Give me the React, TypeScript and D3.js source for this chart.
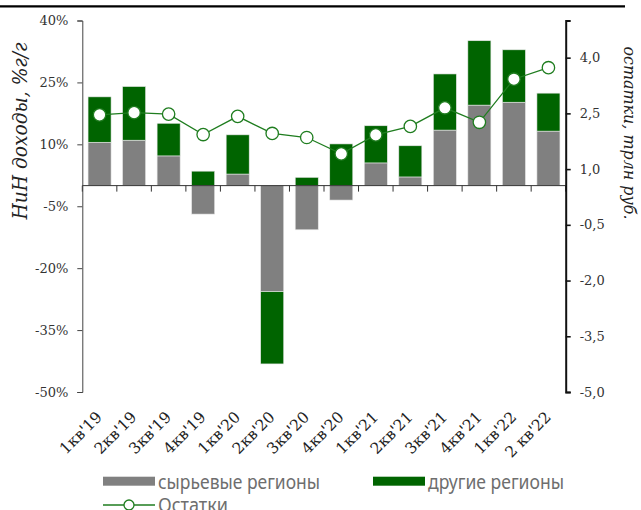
import React, { useEffect, useRef } from "react";
import * as d3 from "d3";

const categories = ["1кв'19", "2кв'19", "3кв'19", "4кв'19", "1кв'20", "2кв'20", "3кв'20", "4кв'20", "1кв'21", "2кв'21", "3кв'21", "4кв'21", "1кв'22", "2 кв'22"];
const rawRegions = [10.5, 11.0, 7.2, -6.9, 2.8, -25.7, -10.7, -3.5, 5.5, 2.1, 13.45, 19.5, 20.2, 13.2];
const otherRegions = [11.0, 13.0, 7.9, 3.5, 9.5, -17.5, 2.0, 10.1, 9.0, 7.55, 13.6, 15.6, 12.7, 9.2];
const balances = [2.46, 2.52, 2.48, 1.93, 2.42, 1.96, 1.85, 1.41, 1.92, 2.15, 2.65, 2.26, 3.42, 3.73];
const leftTicks = [-50, -35, -20, -5, 10, 25, 40];
const rightTicks = [-5, -3.5, -2, -0.5, 1, 2.5, 4];
const seriesNames = ["сырьевые регионы", "другие регионы"];
const lineName = "Остатки";
const leftTitle = "НиН доходы, %г/г";
const rightTitle = "остатки, трлн руб.";

const W = 641, H = 510;
const M = { left: 82.3, right: 565.7, top: 20.5, bottom: 392 };
const GREY = "#808080";
const GREEN = "#006400";
const LINE_GREEN = "#1f7d1f";
const SERIF = "'DejaVu Serif', serif";

export default function App() {
  const ref = useRef<SVGSVGElement>(null);

  useEffect(() => {
    const svg = d3.select(ref.current);
    svg.selectAll("*").remove();

    const n = categories.length;
    const x = d3.scaleBand<string>().domain(categories).range([M.left, M.right]).paddingInner(0.333).paddingOuter(0.1665);
    const yL = d3.scaleLinear().domain([-50, 40]).range([M.bottom, M.top]);
    const yR = d3.scaleLinear().domain([-5, 5]).range([M.bottom, M.top]);

    // top rule
    svg.append("line").attr("x1", 0).attr("x2", 625).attr("y1", 6.3).attr("y2", 6.3)
      .attr("stroke", "#000").attr("stroke-width", 2.2);

    // bars
    const rows = categories.map((c, i) => ({ cat: c, raw: rawRegions[i], other: otherRegions[i] }));
    const stack = d3.stack<any>().keys(["raw", "other"]).offset(d3.stackOffsetDiverging);
    const layers = stack(rows);
    const colors = [GREY, GREEN];
    layers.forEach((layer, li) => {
      svg.append("g").selectAll("rect").data(layer).join("rect")
        .attr("x", (d: any) => x(d.data.cat)!)
        .attr("width", x.bandwidth())
        .attr("y", (d: any) => yL(Math.max(d[0], d[1])))
        .attr("height", (d: any) => Math.abs(yL(d[0]) - yL(d[1])))
        .attr("fill", colors[li])
        .attr("stroke", "#e6e6e6").attr("stroke-width", 0.6);
    });

    // x axis line with ticks at band boundaries
    const y0 = yL(0);
    const gx = svg.append("g");
    gx.append("line").attr("x1", M.left).attr("x2", M.right).attr("y1", y0).attr("y2", y0)
      .attr("stroke", "#333").attr("stroke-width", 1);
    d3.range(n + 1).forEach((i) => {
      const xx = M.left + i * x.step();
      gx.append("line").attr("x1", xx).attr("x2", xx).attr("y1", y0).attr("y2", y0 + 6)
        .attr("stroke", "#333").attr("stroke-width", 1);
    });

    // x labels
    svg.append("g").selectAll("text").data(categories).join("text")
      .attr("transform", (d) => `translate(${x(d)! + x.bandwidth() / 2 + 3.5},${418}) rotate(-45)`)
      .attr("text-anchor", "end")
      .attr("font-family", SERIF).attr("font-size", 15.5).attr("fill", "#222")
      .text((d) => d);

    // left axis
    const gl = svg.append("g").attr("transform", `translate(${M.left},0)`)
      .call(d3.axisLeft(yL).tickValues(leftTicks).tickFormat((d) => `${d}%`).tickSizeOuter(0).tickSize(5).tickPadding(9));
    gl.select(".domain").attr("stroke", "#444");
    gl.selectAll(".tick line").attr("stroke", "#444");
    gl.selectAll("text").attr("font-family", SERIF).attr("font-size", 13).attr("fill", "#333");

    // right axis
    const gr = svg.append("g").attr("transform", `translate(${M.right},0)`)
      .call(d3.axisRight(yR).tickValues(rightTicks).tickFormat((d) => (+d).toFixed(1).replace(".", ",")).tickSizeOuter(0).tickSize(5).tickPadding(9));
    gr.select(".domain").attr("stroke", "#111").attr("stroke-width", 2);
    gr.selectAll(".tick line").attr("stroke", "#111").attr("stroke-width", 1.6);
    gr.selectAll("text").attr("font-family", SERIF).attr("font-size", 13).attr("fill", "#333");

    // line
    const line = d3.line<number>().x((_, i) => x(categories[i])! + x.bandwidth() / 2).y((d) => yR(d));
    svg.append("path").datum(balances).attr("d", line).attr("fill", "none")
      .attr("stroke", LINE_GREEN).attr("stroke-width", 1.3);
    svg.append("g").selectAll("circle").data(balances).join("circle")
      .attr("cx", (_, i) => x(categories[i])! + x.bandwidth() / 2)
      .attr("cy", (d) => yR(d)).attr("r", 6.2)
      .attr("fill", "#fff").attr("stroke", LINE_GREEN).attr("stroke-width", 1.3);

    // axis titles
    svg.append("text").attr("transform", `translate(27,${131}) rotate(-90)`)
      .attr("text-anchor", "middle").attr("font-family", SERIF).attr("font-style", "italic")
      .attr("font-size", 20).attr("fill", "#222")
      .attr("textLength", 177).attr("lengthAdjust", "spacingAndGlyphs")
      .text(leftTitle);
    svg.append("text").attr("transform", `translate(624,${133}) rotate(90)`)
      .attr("text-anchor", "middle").attr("font-family", SERIF).attr("font-style", "italic")
      .attr("font-size", 17).attr("fill", "#222")
      .attr("textLength", 173).attr("lengthAdjust", "spacingAndGlyphs")
      .text(rightTitle);

    // legend
    const LF = "'Liberation Sans Narrow', 'Noto Sans', sans-serif";
    const lg = svg.append("g");
    const items = [
      { x: 103, y: 476.7, color: GREY, label: seriesNames[0], len: 162 },
      { x: 373, y: 476.7, color: GREEN, label: seriesNames[1], len: 136 },
    ];
    items.forEach((it) => {
      lg.append("rect").attr("x", it.x).attr("y", it.y).attr("width", 52).attr("height", 9).attr("fill", it.color);
      lg.append("text").attr("x", it.x + 55).attr("y", 489).attr("font-family", LF).attr("font-size", 19)
        .attr("fill", "#6e6e6e").attr("textLength", it.len).attr("lengthAdjust", "spacingAndGlyphs").text(it.label);
    });
    lg.append("line").attr("x1", 103).attr("x2", 155).attr("y1", 505).attr("y2", 505)
      .attr("stroke", LINE_GREEN).attr("stroke-width", 1.3);
    lg.append("circle").attr("cx", 129).attr("cy", 505).attr("r", 5)
      .attr("fill", "#fff").attr("stroke", LINE_GREEN).attr("stroke-width", 1.3);
    lg.append("text").attr("x", 158).attr("y", 512).attr("font-family", LF).attr("font-size", 19)
      .attr("fill", "#6e6e6e").attr("textLength", 70).attr("lengthAdjust", "spacingAndGlyphs").text(lineName);
  }, []);

  return (
    <svg ref={ref} width={W} height={H} style={{ position: "absolute", left: 0, top: 0, background: "#fff" }} />
  );
}
